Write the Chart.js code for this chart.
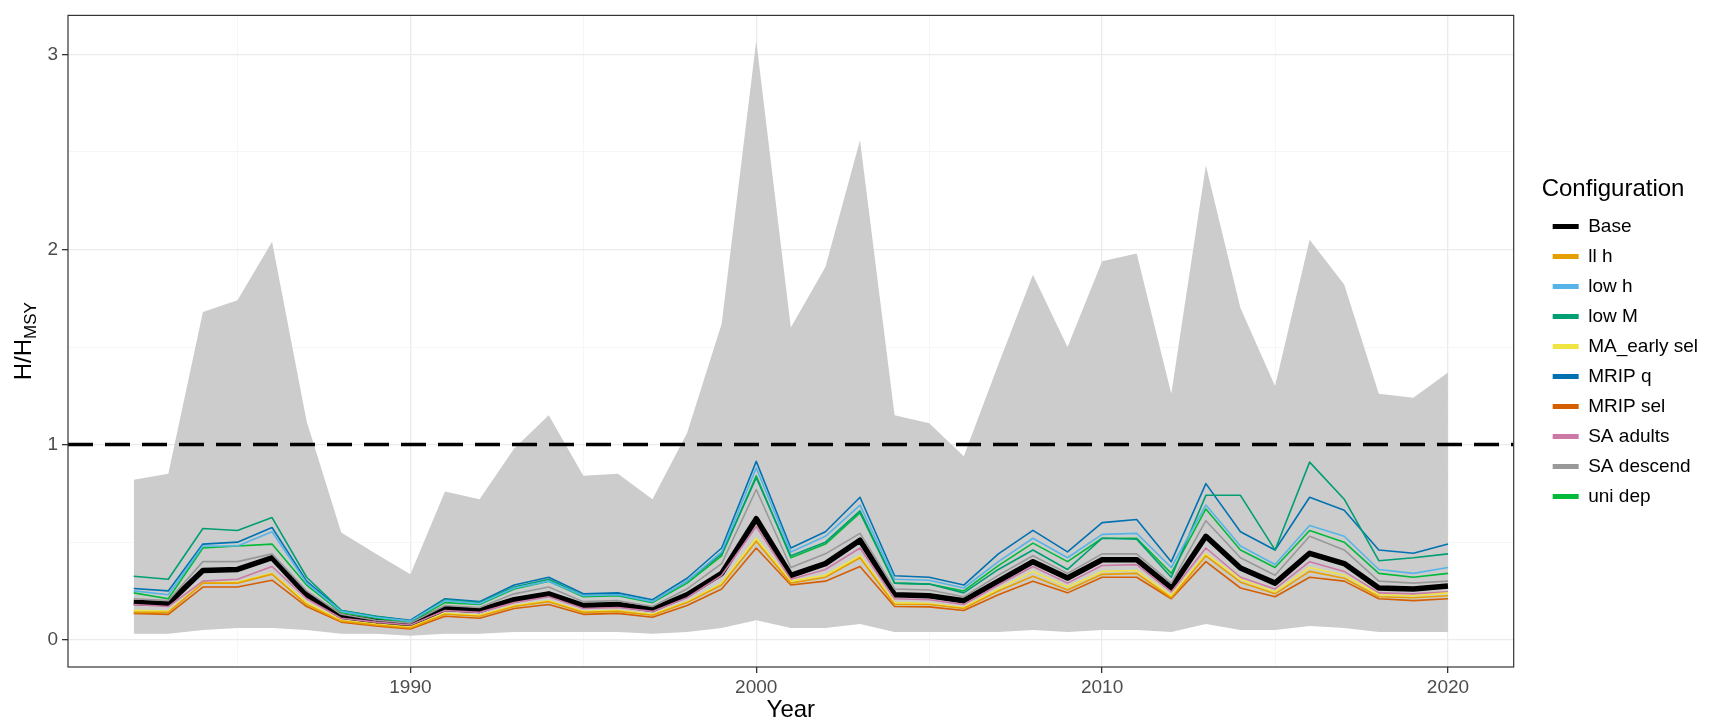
<!DOCTYPE html>
<html>
<head>
<meta charset="utf-8">
<script src="https://cdn.jsdelivr.net/npm/chart.js@4.4.0/dist/chart.umd.min.js"></script>
<style>
  html, body { margin: 0; padding: 0; background: #fff; }
  #wrap { width: 1715px; height: 726px; position: relative; }
</style>
</head>
<body>
<div id="wrap"><canvas id="chart"></canvas></div>
<script>
const years = [1982,1983,1984,1985,1986,1987,1988,1989,1990,1991,1992,1993,1994,1995,1996,1997,1998,1999,2000,2001,
  2002,2003,2004,2005,2006,2007,2008,2009,2010,2011,2012,2013,2014,2015,2016,2017,2018,2019,2020];

// grey band
const ribbonUpper = [0.82,0.85,1.68,1.74,2.04,1.12,0.55,0.44,0.335,0.76, 0.72,0.98,1.15,0.84,0.85,0.72,1.06,1.62,3.07,1.60,
  1.91,2.56,1.15,1.11,0.94,1.41,1.87,1.50,1.94,1.98, 1.26,2.43,1.70,1.30,2.05,1.82,1.26,1.24,1.37];
const ribbonLower = [0.03,0.03,0.05,0.06,0.06,0.05,0.03,0.03,0.02,0.03, 0.03,0.04,0.04,0.04,0.04,0.03,0.04,0.06,0.10,0.06,
  0.06,0.08,0.04,0.04,0.04,0.04,0.05,0.04,0.05,0.05, 0.04,0.08,0.05,0.05,0.07,0.06,0.04,0.04,0.04];

// configurations
const base = [0.19,0.185,0.355,0.36,0.42,0.23,0.12,0.095,0.08,0.16, 0.15,0.205,0.235,0.175,0.18,0.155,0.23,0.34,0.62,0.33,
  0.39,0.51,0.23,0.225,0.2,0.3,0.4,0.316,0.41,0.41, 0.265,0.53,0.367,0.29,0.443,0.39,0.265,0.26,0.275];
const llH = [0.14,0.14,0.29,0.29,0.336,0.18,0.095,0.075,0.06,0.13, 0.12,0.17,0.195,0.14,0.145,0.125,0.19,0.28,0.505,0.29,
  0.32,0.42,0.18,0.18,0.16,0.25,0.325,0.255,0.335,0.34, 0.215,0.43,0.295,0.235,0.35,0.315,0.22,0.215,0.225];
const lowH = [0.25,0.23,0.48,0.48,0.553,0.29,0.145,0.115,0.095,0.20, 0.185,0.265,0.30,0.225,0.23,0.195,0.30,0.45,0.88,0.45,
  0.53,0.69,0.31,0.305,0.265,0.40,0.52,0.42,0.54,0.545, 0.37,0.69,0.48,0.385,0.585,0.53,0.36,0.34,0.37];
const lowM = [0.325,0.31,0.57,0.56,0.626,0.32,0.15,0.12,0.095,0.205, 0.19,0.27,0.31,0.225,0.23,0.195,0.30,0.44,0.83,0.43,
  0.50,0.66,0.29,0.285,0.24,0.36,0.46,0.36,0.52,0.515, 0.32,0.74,0.74,0.46,0.91,0.72,0.405,0.42,0.44];
const maEarlySel = [0.15,0.145,0.29,0.295,0.34,0.19,0.10,0.08,0.065,0.135, 0.125,0.175,0.20,0.145,0.15,0.13,0.195,0.29,0.52,0.30,
  0.33,0.43,0.19,0.185,0.165,0.26,0.35,0.27,0.35,0.355, 0.225,0.44,0.31,0.245,0.37,0.33,0.23,0.225,0.24];
const mripQ = [0.262,0.25,0.49,0.50,0.575,0.30,0.15,0.12,0.10,0.21, 0.195,0.28,0.32,0.235,0.24,0.205,0.315,0.47,0.914,0.47,
  0.553,0.73,0.328,0.32,0.28,0.44,0.56,0.45,0.60,0.616, 0.40,0.80,0.553,0.46,0.73,0.663,0.46,0.443,0.49];
const mripSel = [0.135,0.13,0.27,0.27,0.305,0.17,0.09,0.07,0.055,0.12, 0.11,0.16,0.18,0.13,0.135,0.115,0.175,0.26,0.47,0.28,
  0.30,0.375,0.17,0.168,0.15,0.23,0.30,0.24,0.32,0.32, 0.21,0.40,0.265,0.22,0.32,0.30,0.21,0.20,0.21];
const saAdults = [0.18,0.17,0.30,0.31,0.375,0.21,0.11,0.09,0.075,0.15, 0.14,0.19,0.22,0.16,0.165,0.145,0.215,0.33,0.58,0.31,
  0.36,0.47,0.21,0.205,0.18,0.28,0.375,0.29,0.38,0.385, 0.245,0.47,0.32,0.26,0.40,0.35,0.24,0.235,0.245];
const saDescend = [0.21,0.20,0.40,0.40,0.44,0.25,0.13,0.10,0.085,0.175, 0.165,0.235,0.27,0.195,0.20,0.17,0.26,0.39,0.77,0.37,
  0.44,0.545,0.26,0.255,0.22,0.33,0.43,0.34,0.44,0.44, 0.29,0.61,0.42,0.33,0.53,0.46,0.30,0.29,0.30];
const uniDep = [0.24,0.21,0.47,0.48,0.49,0.28,0.14,0.11,0.09,0.19, 0.18,0.26,0.30,0.22,0.225,0.19,0.29,0.43,0.84,0.42,
  0.49,0.65,0.29,0.285,0.25,0.38,0.495,0.40,0.52,0.52, 0.34,0.67,0.46,0.37,0.56,0.50,0.34,0.32,0.34];

const configNames = ['Base', 'll h', 'low h', 'low M', 'MA_early sel', 'MRIP q', 'MRIP sel', 'SA adults', 'SA descend', 'uni dep'];
const configSeries = [base, llH, lowH, lowM, maEarlySel, mripQ, mripSel, saAdults, saDescend, uniDep];
const configColors = ['#000000', '#E69F00', '#56B4E9', '#009E73', '#F0E442', '#0072B2', '#D55E00', '#CC79A7', '#999999', '#00BA38'];

const refLevel = 1;
const xTicks = [1990, 2000, 2010, 2020];
const xMinor = [1985, 1995, 2005, 2015];
const yTicks = [0, 1, 2, 3];
const yMinor = [0.5, 1.5, 2.5];
const xLimits = [1980.1, 2021.9];
const yLimits = [-0.14, 3.2];

const FONT = '"Liberation Sans", Arial, Helvetica, sans-serif';
const toXY = (arr) => years.map((yr, i) => ({ x: yr, y: arr[i] }));

const datasets = [
  { label: 'upper', data: toXY(ribbonUpper), fill: '+1', backgroundColor: '#cccccc', borderWidth: 0, pointRadius: 0, order: 100 },
  { label: 'lower', data: toXY(ribbonLower), fill: false, borderWidth: 0, pointRadius: 0, order: 100 },
  { label: 'ref', data: xLimits.map(x => ({ x: x, y: refLevel })), borderColor: '#000', borderWidth: 3.5,
    borderDash: [25, 12], pointRadius: 0, fill: false, order: 0 }
];
configNames.forEach((name, i) => {
  datasets.push({
    label: name,
    data: toXY(configSeries[i]),
    borderColor: configColors[i],
    backgroundColor: configColors[i],
    borderWidth: i === 0 ? 5.5 : 1.6,
    borderJoinStyle: 'round',
    pointRadius: 0,
    fill: false,
    tension: 0,
    order: i === 0 ? 50 : 10
  });
});

// ggplot-ish panel border
const panelBorder = {
  id: 'panelBorder',
  afterDraw(chart) {
    const { ctx, chartArea: a } = chart;
    ctx.save();
    ctx.strokeStyle = '#333';
    ctx.lineWidth = 1.2;
    ctx.strokeRect(a.left, a.top, a.right - a.left, a.bottom - a.top);
    ctx.restore();
  }
};

// y title with subscript
const yTitle = {
  id: 'yTitle',
  afterDraw(chart) {
    const { ctx, chartArea: a } = chart;
    const cy = (a.top + a.bottom) / 2;
    ctx.save();
    ctx.translate(24, cy);
    ctx.rotate(-Math.PI / 2);
    ctx.fillStyle = '#000';
    ctx.textBaseline = 'middle';
    ctx.textAlign = 'left';
    ctx.font = '24px ' + FONT;
    const w1 = ctx.measureText('H/H').width;
    ctx.font = '17px ' + FONT;
    const w2 = ctx.measureText('MSY').width;
    const x0 = -(w1 + w2) / 2;
    ctx.font = '24px ' + FONT;
    ctx.fillText('H/H', x0, 0);
    ctx.font = '17px ' + FONT;
    ctx.fillText('MSY', x0 + w1, 7);
    ctx.restore();
  }
};

// nudge legend like ggplot's spacing
const legendShift = {
  id: 'legendShift',
  afterLayout(chart) {
    const lg = chart.legend;
    lg.left += 28; lg.right += 28;
    lg.top -= 20; lg.bottom -= 20;
  }
};

const isMajor = (v, list) => list.includes(v);

new Chart(document.getElementById('chart'), {
  type: 'line',
  data: { datasets: datasets },
  options: {
    responsive: true,
    maintainAspectRatio: false,
    animation: false,
    layout: { padding: { top: 8, right: 35, bottom: 0, left: 0 } },
    scales: {
      x: {
        type: 'linear',
        min: xLimits[0],
        max: xLimits[1],
        afterBuildTicks: s => { s.ticks = xMinor.concat(xTicks).sort((a, b) => a - b).map(v => ({ value: v })); },
        afterFit: s => { s.height = 59; },
        ticks: {
          color: '#4d4d4d', font: { size: 19, family: FONT }, padding: 3, maxRotation: 0, autoSkip: false,
          callback: v => isMajor(v, xTicks) ? String(v) : ''
        },
        grid: {
          color: c => c.tick && isMajor(c.tick.value, xTicks) ? '#ebebeb' : '#f4f4f4',
          lineWidth: c => c.tick && isMajor(c.tick.value, xTicks) ? 1.3 : 0.8,
          tickColor: c => c.tick && isMajor(c.tick.value, xTicks) ? '#333' : 'rgba(0,0,0,0)',
          tickLength: 6
        },
        border: { display: false },
        title: { display: true, text: 'Year', color: '#000', font: { size: 24, family: FONT }, padding: { top: 0, bottom: 1 } }
      },
      y: {
        min: yLimits[0],
        max: yLimits[1],
        afterBuildTicks: s => { s.ticks = yTicks.concat(yMinor).sort((a, b) => a - b).map(v => ({ value: v })); },
        afterFit: s => { s.width = 68; },
        ticks: {
          color: '#4d4d4d', font: { size: 19, family: FONT }, padding: 4, autoSkip: false,
          callback: v => isMajor(v, yTicks) ? String(v) : ''
        },
        grid: {
          color: c => c.tick && isMajor(c.tick.value, yTicks) ? '#ebebeb' : '#f4f4f4',
          lineWidth: c => c.tick && isMajor(c.tick.value, yTicks) ? 1.3 : 0.8,
          tickColor: c => c.tick && isMajor(c.tick.value, yTicks) ? '#333' : 'rgba(0,0,0,0)',
          tickLength: 6
        },
        border: { display: false }
      }
    },
    plugins: {
      tooltip: { enabled: false },
      legend: {
        position: 'right',
        align: 'center',
        title: { display: true, text: 'Configuration', color: '#000', position: 'start',
          font: { size: 24, family: FONT }, padding: { top: 0, bottom: 0 } },
        labels: {
          boxWidth: 26,
          boxHeight: 5,
          padding: 11,
          color: '#000',
          font: { size: 19, family: FONT },
          generateLabels: () => configNames.map((name, i) => ({
            text: name,
            fillStyle: configColors[i],
            strokeStyle: configColors[i],
            lineWidth: 0,
            hidden: false,
            datasetIndex: i + 3,
            fontColor: '#000'
          }))
        }
      }
    }
  },
  plugins: [panelBorder, yTitle, legendShift]
});
</script>
</body>
</html>
